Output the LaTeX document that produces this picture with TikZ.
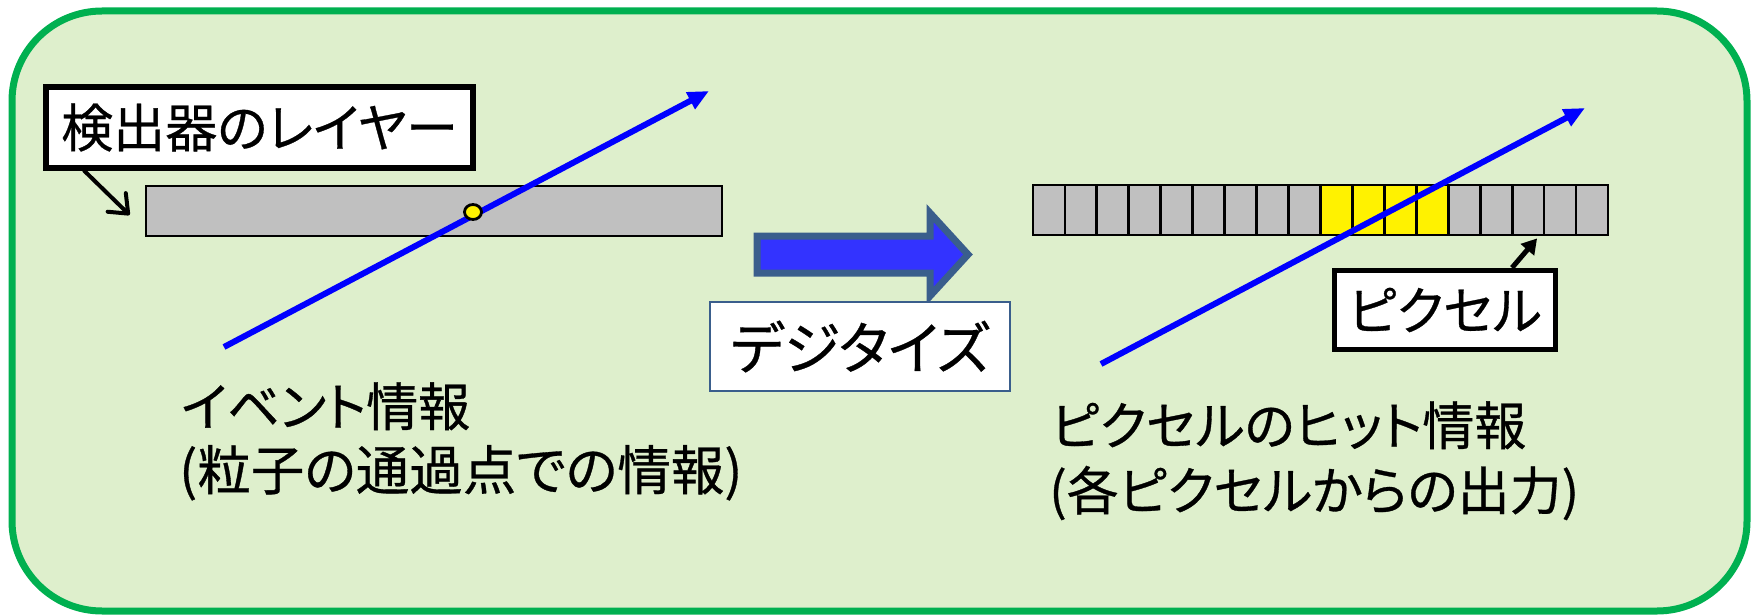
\documentclass[tikz,border=0pt]{standalone}
\usepackage{fontspec}
\setmainfont{Noto Sans CJK JP}
\newfontfamily\jpp[RawFeature=+palt, FakeBold=0.6]{Noto Sans CJK JP}
\usetikzlibrary{arrows.meta,calc,shapes.geometric}
\definecolor{bgfill}{RGB}{222,239,204}
\definecolor{bgborder}{RGB}{0,176,80}
\definecolor{bargray}{RGB}{192,192,192}
\definecolor{bigfill}{RGB}{51,51,255}
\definecolor{bigborder}{RGB}{58,94,140}
\definecolor{trackblue}{RGB}{0,0,255}
\tikzset{
  txt/.style={font=\jpp\fontsize{52}{62}\selectfont, inner sep=0pt, anchor=base west},
  labelbox/.style={draw=black, line width=5.5pt, fill=white, inner sep=0pt,
    font=\jpp\fontsize{52}{62}\selectfont},
  digibox/.style={draw=bigborder, line width=2.2pt, fill=white, inner sep=0pt,
    font=\jpp\fontsize{57}{66}\selectfont},
  barbox/.style={draw=black, line width=2.8pt, fill=bargray, inner sep=0pt},
  cellbox/.style={draw=black, line width=2.8pt, fill=bargray, inner sep=0pt,
    minimum width=31.94pt, minimum height=50pt},
  hitcell/.style={fill=yellow},
  track/.style={draw=trackblue, line width=6pt, -{Triangle[length=21pt,width=18pt]}},
  calloutopen/.style={draw=black, line width=4pt, line cap=round,
    -{Straight Barb[length=16pt,width=26pt,round]}},
  calloutfilled/.style={draw=black, line width=5pt, -{Triangle[length=15pt,width=17pt]}},
}
\begin{document}
\begin{tikzpicture}[x=1pt,y=-1pt]
\useasboundingbox (0,0) rectangle (1754,615);
% background panel
\draw[draw=bgborder, fill=bgfill, line width=7pt, rounded corners=90pt]
  (12,11) rectangle (1747,611);

% left: detector layer
\node[barbox, minimum width=576pt, minimum height=50pt] (bar) at (434,211) {};
\coordinate (t1s) at (224,347);
\coordinate (t1e) at (709,91);
\draw[track] (t1s) -- (t1e);
\node[draw=black, line width=2.8pt, fill=yellow, ellipse, minimum width=17pt,
  minimum height=15pt, inner sep=0pt] (hit) at (473,212) {};

\node[labelbox, minimum width=427pt, minimum height=81pt] (lab1) at (259.5,127.5) {検出器のレイヤー};
\draw[calloutopen] ($(lab1.south west)+(41,0)$) -- ($(bar.west)+(-15,4)$);

\node[txt] (ev1) at (181,426) {イベント情報};
\node[txt, font=\jpp\fontsize{53.5}{62}\selectfont] (ev2) at (179,490) {(粒子の通過点での情報)};

% middle: digitize arrow
\draw[draw=bigborder, fill=bigfill, line width=7pt, miter limit=10]
  (757,236) -- (930,236) -- (930,213) -- (968,254.5) -- (930,296) -- (930,273) -- (757,273) -- cycle;
\node[digibox, minimum width=300pt, minimum height=89pt] (digi) at (860,346.5) {デジタイズ};

% right: pixels
\foreach \i in {1,...,18} {
  \pgfmathsetmacro{\cx}{1033+31.94*(\i-0.5)}
  \ifnum\i>9 \ifnum\i<14
    \node[cellbox, hitcell] (cell\i) at (\cx,210) {};
  \else
    \node[cellbox] (cell\i) at (\cx,210) {};
  \fi\else
    \node[cellbox] (cell\i) at (\cx,210) {};
  \fi
}
\coordinate (t2s) at (1101,364);
\coordinate (t2e) at (1585,108);
\draw[track] (t2s) -- (t2e);

\node[labelbox, minimum width=221pt, minimum height=79pt] (lab2) at (1445,310) {ピクセル};
\draw[calloutfilled] ($(lab2.north)+(67,0)$) -- ($(cell16.south)+(9,2)$);

\node[txt] (px1) at (1051,445) {ピクセルのヒット情報};
\node[txt] (px2) at (1049,510) {(各ピクセルからの出力)};
\end{tikzpicture}
\end{document}
